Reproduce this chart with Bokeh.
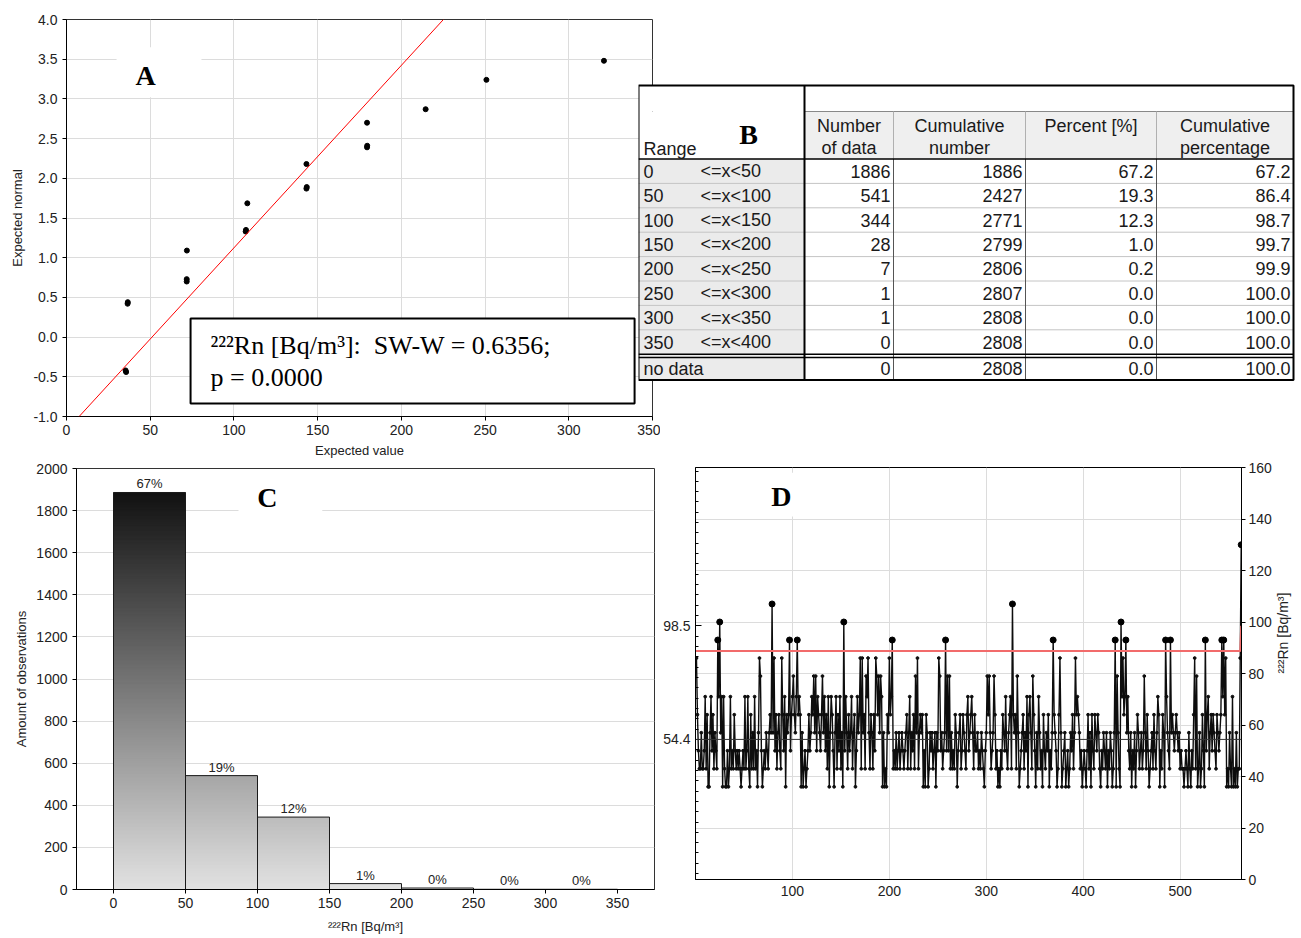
import math
import numpy as np
from bokeh.plotting import figure
from bokeh.layouts import row, column
from bokeh.models import (Range1d, LinearAxis, FixedTicker, SingleIntervalTicker,
                          PrintfTickFormatter, Slope, BoxAnnotation, Label, Span)
from bokeh.embed import file_html
from bokeh.resources import INLINE
from bokeh.core.properties import value

# ---------------- data ----------------
# Panel A: normal probability plot
qq_x = [35.3, 35.6, 36.5, 36.6, 71.8, 71.8, 71.9, 107.0, 107.2, 108.0, 143.3, 143.5, 143.3,
        179.5, 179.6, 179.5, 214.5, 250.8, 321.0]
qq_y = [-0.42, -0.44, 0.42, 0.44, 0.70, 0.73, 1.09, 1.33, 1.35, 1.685, 1.87, 1.89, 2.18,
        2.39, 2.41, 2.70, 2.87, 3.24, 3.48]
fit_slope = 0.02298
fit_intercept = -1.1735
sw_w = 0.6356
p_value = 0.0000

# Panel B / C: frequency table
range_lo = [0, 50, 100, 150, 200, 250, 300, 350]
range_hi = [50, 100, 150, 200, 250, 300, 350, 400]
counts = [1886, 541, 344, 28, 7, 1, 1, 0]
cum_counts = [1886, 2427, 2771, 2799, 2806, 2807, 2808, 2808]
percents = [67.2, 19.3, 12.3, 1.0, 0.2, 0.0, 0.0, 0.0]
cum_percents = [67.2, 86.4, 98.7, 99.7, 99.9, 100.0, 100.0, 100.0]
no_data_row = [0, 2808, 0.0, 100.0]
header_line1 = ["Number", "Cumulative", "Percent [%]", "Cumulative"]
header_line2 = ["of data", "number", "", "percentage"]

# Panel D: 222Rn series
rn_series = [
    86, 64, 50, 43, 43, 57, 43, 43, 50, 71, 43, 64, 36, 36, 57, 71, 50, 64, 43, 57,
    50, 43, 93, 71, 100, 57, 71, 36, 71, 43, 36, 36, 50, 36, 43, 71, 43, 50, 43, 64,
    50, 43, 50, 43, 50, 43, 36, 43, 50, 43, 71, 43, 50, 71, 43, 36, 64, 43, 57, 43,
    71, 43, 50, 36, 57, 86, 79, 50, 36, 43, 50, 43, 57, 50, 43, 57, 64, 57, 107, 57,
    86, 50, 64, 43, 57, 64, 50, 43, 86, 64, 50, 71, 36, 64, 57, 64, 93, 50, 64, 71,
    79, 64, 57, 71, 93, 64, 71, 64, 36, 57, 36, 43, 50, 36, 43, 50, 64, 50, 57, 71,
    64, 79, 57, 79, 50, 71, 64, 57, 50, 64, 79, 57, 71, 50, 64, 43, 71, 36, 57, 71,
    64, 50, 36, 57, 71, 43, 64, 50, 71, 43, 57, 36, 100, 50, 71, 57, 43, 64, 50, 57,
    71, 43, 57, 64, 36, 50, 71, 57, 64, 86, 43, 86, 57, 64, 43, 79, 71, 86, 57, 43,
    64, 57, 43, 64, 50, 86, 79, 64, 79, 57, 79, 71, 36, 57, 36, 43, 36, 64, 57, 86,
    64, 71, 93, 43, 50, 43, 57, 43, 50, 57, 43, 50, 57, 50, 43, 50, 57, 64, 43, 57,
    71, 43, 57, 50, 64, 43, 79, 57, 86, 43, 57, 64, 57, 64, 36, 50, 36, 64, 57, 36,
    43, 57, 50, 57, 43, 50, 57, 36, 57, 50, 86, 79, 50, 57, 43, 50, 57, 93, 50, 79,
    50, 79, 43, 57, 43, 50, 43, 64, 57, 36, 50, 57, 64, 43, 50, 64, 57, 50, 43, 64,
    71, 50, 57, 64, 71, 57, 43, 64, 50, 50, 57, 43, 50, 43, 57, 50, 43, 36, 50, 57,
    79, 64, 79, 57, 43, 50, 57, 79, 64, 43, 50, 36, 43, 36, 50, 43, 64, 57, 50, 71,
    50, 43, 57, 64, 71, 43, 107, 64, 57, 64, 43, 79, 57, 36, 43, 50, 57, 64, 43, 57,
    50, 71, 36, 64, 71, 57, 43, 79, 64, 50, 36, 57, 43, 71, 57, 43, 50, 36, 64, 50,
    43, 57, 50, 64, 36, 50, 43, 57, 93, 64, 57, 50, 36, 43, 64, 86, 57, 36, 43, 50,
    57, 36, 43, 50, 36, 43, 57, 50, 64, 43, 57, 86, 64, 71, 64, 57, 43, 50, 36, 43,
    50, 43, 36, 50, 64, 43, 57, 36, 64, 50, 43, 64, 57, 50, 64, 57, 43, 36, 50, 43,
    57, 50, 43, 57, 36, 50, 43, 57, 50, 36, 43, 57, 93, 36, 79, 57, 43, 36, 100, 71,
    86, 64, 71, 93, 57, 71, 50, 43, 57, 36, 50, 43, 57, 36, 50, 64, 57, 43, 50, 57,
    43, 50, 79, 57, 43, 64, 50, 36, 43, 50, 57, 43, 64, 50, 43, 57, 71, 64, 36, 50,
    43, 64, 57, 36, 93, 71, 57, 50, 43, 93, 57, 64, 57, 50, 57, 64, 57, 50, 57, 43,
    50, 43, 43, 36, 43, 50, 43, 36, 57, 43, 36, 50, 43, 64, 86, 43, 79, 36, 43, 57,
    36, 43, 64, 50, 36, 93, 50, 64, 71, 43, 57, 64, 50, 64, 57, 50, 43, 64, 57, 50,
    57, 64, 93, 71, 93, 64, 86, 36, 43, 36, 57, 43, 36, 71, 36, 43, 36, 57, 36, 43,
    43, 86, 130,
]
rn_mean = 54.4
rn_upper = 98.5
limit_x = [0, 562, 563]
limit_y = [88.7, 88.7, 98.5]

SANS = "Liberation Sans"
SERIF = "Liberation Serif"
TXT = "#222222"
GRID = "#dcdcdc"
NB = "\u00a0"


def style_axis(ax, size="14px"):
    ax.major_label_text_font = SANS
    ax.major_label_text_font_size = size
    ax.major_label_text_color = TXT
    ax.axis_label_text_font = SANS
    ax.axis_label_text_font_size = "13px"
    ax.axis_label_text_font_style = "normal"
    ax.axis_label_text_color = TXT
    ax.axis_line_color = "black"
    ax.axis_line_width = 1
    ax.major_tick_line_color = "black"
    ax.minor_tick_line_color = None
    ax.major_tick_in = 0
    ax.major_tick_out = 4


# ---------------- Panel A ----------------
pA = figure(width=660, height=460, x_range=Range1d(0, 350), y_range=Range1d(-1, 4),
            output_backend="svg", toolbar_location=None,
            min_border_left=66, min_border_right=8, min_border_top=19, min_border_bottom=44)
pA.xaxis.ticker = SingleIntervalTicker(interval=50)
pA.yaxis.ticker = SingleIntervalTicker(interval=0.5)
pA.yaxis.formatter = PrintfTickFormatter(format="%.1f")
pA.xaxis.axis_label = "Expected value"
pA.yaxis.axis_label = "Expected normal"
for ax in pA.xaxis + pA.yaxis:
    style_axis(ax)
pA.xaxis.major_label_standoff = 4
pA.xaxis.axis_label_standoff = 5
pA.yaxis.axis_label_standoff = 5
pA.grid.grid_line_color = GRID
pA.outline_line_color = "#333333"
pA.add_layout(Slope(gradient=fit_slope, y_intercept=fit_intercept, line_color="red", line_width=1))
pA.scatter(qq_x, qq_y, size=5, color="black")
pA.add_layout(BoxAnnotation(left=29.9, right=80.6, bottom=3.02, top=3.65,
                            fill_color="white", fill_alpha=1, line_color=None))
pA.add_layout(Label(x=47.2, y=3.30, text="A", text_font=SERIF, text_font_style="bold",
                    text_font_size="28px", text_align="center", text_baseline="middle",
                    text_color="black"))
pA.add_layout(BoxAnnotation(left=74.1, right=339.3, bottom=-0.836, top=0.234,
                            fill_color="white", fill_alpha=1, line_color="black",
                            line_alpha=1, line_width=2))
pA.add_layout(Label(x=86, y=-0.106, text=f"²²²Rn [Bq/m³]:{NB}{NB}SW-W = {sw_w:.4f};",
                    text_font=SERIF, text_font_size="26px", text_align="left",
                    text_baseline="middle", text_color="black"))
pA.add_layout(Label(x=86, y=-0.509, text=f"p = {p_value:.4f}",
                    text_font=SERIF, text_font_size="26px", text_align="left",
                    text_baseline="middle", text_color="black"))

# ---------------- Panel B (table) ----------------
# frame borders equal to panel A so that table coordinates equal page pixels
pB = figure(width=663, height=460, x_range=Range1d(0, 663), y_range=Range1d(416, 19),
            output_backend="svg", toolbar_location=None, x_axis_type=None, y_axis_type=None,
            min_border_left=0, min_border_right=0, min_border_top=19, min_border_bottom=44,
            outline_line_color=None, background_fill_color=None,
            border_fill_color=None, margin=(0, 0, 0, -22))
col_x = [0, 166, 255, 387, 518, 655]
y_top, y_head, y_body, row_h = 85, 111, 158.5, 24.4
n_rows = len(counts)
y_sep = y_body + n_rows * row_h
y_nd = y_sep + 3.3
y_bot = y_nd + 22.5
# fills
pB.quad(left=[col_x[0], col_x[1], col_x[0], col_x[1]],
        right=[col_x[-1], col_x[-1], col_x[1], col_x[-1]],
        top=[y_top, y_head, y_body, y_body],
        bottom=[y_head, y_body, y_bot, y_bot],
        fill_color=["white", "#efefef", "#ebebeb", "white"], line_color=None)
pB.quad(left=[col_x[0]], right=[col_x[1]], top=[y_head], bottom=[y_body],
        fill_color="white", line_color=None)
# thin row lines
row_lines = [y_body + i * row_h for i in range(1, n_rows)]
pB.segment(x0=[col_x[0]] * len(row_lines), x1=[col_x[-1]] * len(row_lines),
           y0=row_lines, y1=row_lines, line_color="#c4c4c4", line_width=1)
# header lines
pB.segment(x0=[col_x[1]], x1=[col_x[-1]], y0=[y_head], y1=[y_head], line_color="#888888", line_width=1)
pB.segment(x0=col_x[2:5], x1=col_x[2:5], y0=[y_head] * 3, y1=[y_body] * 3,
           line_color="#b0b0b0", line_width=1)
pB.segment(x0=col_x[2:5], x1=col_x[2:5], y0=[y_body] * 3, y1=[y_bot] * 3,
           line_color="#555555", line_width=1)
# strong lines
pB.segment(x0=[col_x[0], col_x[0], col_x[0]], x1=[col_x[-1], col_x[-1], col_x[-1]],
           y0=[y_body, y_sep, y_nd], y1=[y_body, y_sep, y_nd], line_color="black", line_width=1.6)
pB.segment(x0=[col_x[1]], x1=[col_x[1]], y0=[y_top], y1=[y_bot], line_color="black", line_width=2)
pB.quad(left=[col_x[0]], right=[col_x[-1]], top=[y_top], bottom=[y_bot],
        fill_color=None, line_color="black", line_width=2)
# header texts
hx = [(col_x[i + 1] + col_x[i + 2]) / 2 for i in range(4)]
pB.text(x=hx, y=[125] * 4, text=header_line1, text_align="center", text_baseline="middle",
        text_font=value(SANS), text_font_size="18px", text_color="#1a1a1a")
pB.text(x=hx, y=[147] * 4, text=header_line2, text_align="center", text_baseline="middle",
        text_font=value(SANS), text_font_size="18px", text_color="#1a1a1a")
pB.text(x=[5], y=[148], text=["Range"], text_align="left", text_baseline="middle",
        text_font=value(SANS), text_font_size="18px", text_color="#1a1a1a")
pB.text(x=[110], y=[134], text=["B"], text_align="center", text_baseline="middle",
        text_font=value(SERIF), text_font_style="bold", text_font_size="28px", text_color="black")
# body texts
row_c = [y_body + (i + 0.5) * row_h for i in range(n_rows)]
nd_c = (y_nd + y_bot) / 2
lo_txt = [str(v) for v in range_lo] + ["no data"]
pB.text(x=[5] * (n_rows + 1), y=row_c + [nd_c], text=lo_txt, text_align="left",
        text_baseline="middle", text_font=value(SANS), text_font_size="18px", text_color="#1a1a1a")
pB.text(x=[62] * n_rows, y=row_c, text=[f"<=x<{v}" for v in range_hi], text_align="left",
        text_baseline="middle", text_font=value(SANS), text_font_size="18px", text_color="#1a1a1a")
cols = [[str(v) for v in counts] + [str(no_data_row[0])],
        [str(v) for v in cum_counts] + [str(no_data_row[1])],
        [f"{v:.1f}" for v in percents] + [f"{no_data_row[2]:.1f}"],
        [f"{v:.1f}" for v in cum_percents] + [f"{no_data_row[3]:.1f}"]]
for ci, ctext in enumerate(cols):
    pB.text(x=[col_x[ci + 2] - 3] * len(ctext), y=row_c + [nd_c], text=ctext, text_align="right",
            text_baseline="middle", text_font=value(SANS), text_font_size="18px", text_color="#1a1a1a")

# ---------------- Panel C (histogram) ----------------
pC = figure(width=660, height=478, x_range=Range1d(-25.7, 375.7), y_range=Range1d(0, 2000),
            output_backend="svg", toolbar_location=None,
            min_border_left=76, min_border_right=6, min_border_top=8, min_border_bottom=49)
pC.xaxis.ticker = SingleIntervalTicker(interval=50)
pC.yaxis.ticker = SingleIntervalTicker(interval=200)
pC.xaxis.axis_label = "²²²Rn [Bq/m³]"
pC.yaxis.axis_label = "Amount of observations"
for ax in pC.xaxis + pC.yaxis:
    style_axis(ax)
pC.xaxis.major_label_standoff = 4
pC.xaxis.axis_label_standoff = 8
pC.yaxis.axis_label_standoff = 4
pC.xgrid.grid_line_color = None
pC.ygrid.grid_line_color = GRID
pC.outline_line_color = "#333333"
nb = 7
top_max = max(counts)
step = 6.0
sl, sr, sb, st, scol = [], [], [], [], []
for lo, hi, c in zip(range_lo[:nb], range_hi[:nb], counts[:nb]):
    for y0 in np.arange(0, c, step):
        y1 = min(y0 + step * 1.6, c)
        g = int(round(226 - 209 * (y0 + step / 2) / top_max))
        g = max(0, min(255, g))
        sl.append(lo); sr.append(hi); sb.append(y0); st.append(y1)
        scol.append("#%02x%02x%02x" % (g, g, g))
pC.quad(left=sl, right=sr, bottom=sb, top=st, fill_color=scol, line_color=None)
pC.quad(left=range_lo[:nb], right=range_hi[:nb], bottom=[0] * nb, top=counts[:nb],
        fill_color=None, line_color="#1a1a1a", line_width=1)
centers = [(a + b) / 2 for a, b in zip(range_lo[:nb], range_hi[:nb])]
pC.text(x=centers, y=counts[:nb], text=[f"{round(v)}%" for v in percents[:nb]],
        text_align="center", text_baseline="bottom", y_offset=-1,
        text_font=value(SANS), text_font_size="13px", text_color=TXT)
pC.add_layout(BoxAnnotation(left=86.8, right=145, bottom=1730, top=1990,
                            fill_color="white", fill_alpha=1, line_color=None))
pC.add_layout(Label(x=106.9, y=1862, text="C", text_font=SERIF, text_font_style="bold",
                    text_font_size="28px", text_align="center", text_baseline="middle",
                    text_color="black"))

# ---------------- Panel D (time series) ----------------
x_idx = list(range(1, len(rn_series) + 1))
pD = figure(width=641, height=478, x_range=Range1d(0, 563.3), y_range=Range1d(0, 160),
            y_axis_location="right", output_backend="svg", toolbar_location=None,
            min_border_left=35, min_border_right=56, min_border_top=7, min_border_bottom=59)
pD.xaxis.ticker = FixedTicker(ticks=[100, 200, 300, 400, 500])
pD.yaxis.ticker = SingleIntervalTicker(interval=20)
for ax in pD.xaxis + pD.yaxis:
    style_axis(ax)
pD.xaxis.major_tick_out = 0
pD.xaxis.major_label_standoff = 6
right_ax = pD.yaxis[0]
right_ax.major_label_standoff = 3
right_ax.axis_label = "²²²Rn [Bq/m³]"
right_ax.axis_label_standoff = 8
right_ax.axis_label_text_font_size = "14px"
if "axis_label_orientation" in right_ax.properties():
    right_ax.axis_label_orientation = math.pi / 2
pD.grid.grid_line_color = GRID
pD.outline_line_color = "black"
minor = [round(rn_mean + 4.009 * k, 3) for k in range(-13, 27) if k not in (0, 11)]
minor = [m for m in minor if 0 < m < 160]
left_ax = LinearAxis(ticker=FixedTicker(ticks=[rn_mean, rn_upper], minor_ticks=minor),
                     formatter=PrintfTickFormatter(format="%.1f"))
style_axis(left_ax)
left_ax.major_tick_out = 0
left_ax.major_tick_in = 6
left_ax.minor_tick_line_color = "black"
left_ax.minor_tick_in = 3
left_ax.minor_tick_out = 0
left_ax.major_label_standoff = 5
pD.add_layout(left_ax, "left")
pD.line(x_idx, rn_series, line_color="#0d0d0d", line_width=1.4)
pD.scatter(x_idx, rn_series, size=2.8, color="#0d0d0d")
pk_x = [x for x, v in zip(x_idx, rn_series) if v > limit_y[0]]
pk_y = [v for v in rn_series if v > limit_y[0]]
pD.scatter(pk_x, pk_y, size=6, color="black")
pD.add_layout(Span(location=rn_mean, dimension="width", line_color="#333333", line_width=1))
pD.line(limit_x, limit_y, line_color="#f26b6b", line_width=2)
pD.add_layout(BoxAnnotation(left=56, right=137, bottom=141, top=158,
                            fill_color="white", fill_alpha=1, line_color=None))
pD.add_layout(Label(x=88.7, y=148.6, text="D", text_font=SERIF, text_font_style="bold",
                    text_font_size="28px", text_align="center", text_baseline="middle",
                    text_color="black"))

layout = column(row(pA, pB), row(column(pC), column(pD)))
open("out.html", "w").write(file_html(layout, INLINE))
